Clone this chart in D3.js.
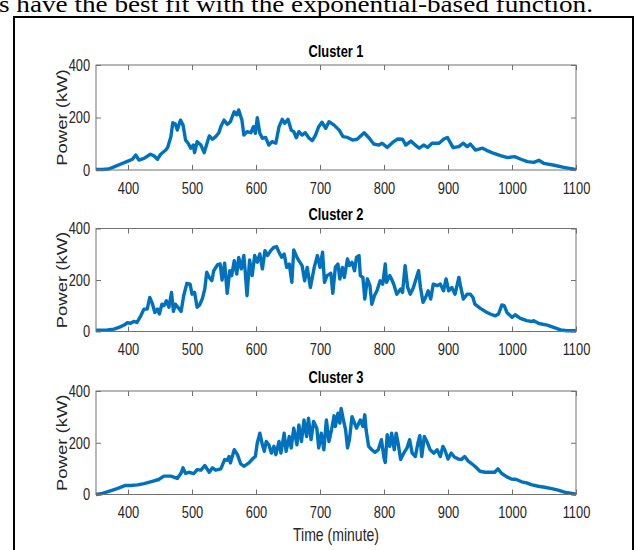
<!DOCTYPE html>
<html>
<head>
<meta charset="utf-8">
<script src="https://cdn.jsdelivr.net/npm/d3@7"></script>
<style>
body { margin: 0; background: #fff; }
</style>
</head>
<body>
<svg id="fig" width="637" height="550"></svg>
<script>
// [minute, power kW]
var cluster1 = [[350,2],[360,2],[370,4],[378,12],[388,22],[399,33],[407,41],[412,57],[417,38],[425,44],
    [435,60],[440,55],[446,41],[451,60],[459,76],[462,86],[467,127],[470,180],[474,175],[477,152],
    [482,190],[486,171],[490,114],[494,102],[498,83],[502,95],[504,66],[508,108],[514,95],[519,66],
    [527,130],[532,117],[537,127],[542,142],[545,165],[550,190],[555,174],[560,184],[566,222],[570,210],
    [573,229],[578,190],[581,133],[586,146],[592,142],[596,165],[599,140],[602,199],[606,140],[610,121],
    [615,124],[620,95],[625,108],[631,102],[636,165],[641,193],[645,178],[650,193],[655,152],[659,146],
    [663,123],[667,146],[672,133],[677,142],[683,121],[688,112],[693,133],[698,165],[703,182],[709,159],
    [714,184],[722,171],[730,152],[736,127],[743,124],[751,114],[758,117],[769,142],[777,121],[784,99],
    [792,95],[797,102],[805,86],[813,104],[821,118],[829,117],[834,95],[842,110],[849,95],[855,83],
    [862,95],[868,86],[875,102],[886,102],[894,119],[899,124],[908,85],[917,89],[924,102],[930,89],
    [935,99],[943,76],[954,83],[961,74],[972,63],[982,55],[993,47],[1004,51],[1014,41],[1024,32],
    [1034,29],[1042,37],[1050,25],[1066,18],[1081,10],[1097,3],[1100,2]];

var cluster2 = [[350,5],[360,5],[368,6],[378,9],[386,16],[394,25],[399,34],[404,32],[409,39],[414,35],
    [420,61],[425,87],[430,87],[434,132],[438,109],[442,74],[446,87],[449,68],[453,106],[456,100],
    [460,119],[464,94],[468,152],[471,78],[474,106],[478,94],[483,78],[487,139],[492,187],[497,184],
    [500,145],[504,152],[508,94],[512,104],[516,126],[520,165],[523,230],[527,210],[531,197],[534,236],
    [540,260],[544,262],[547,200],[551,265],[555,148],[559,236],[562,217],[566,275],[570,223],[573,288],
    [577,243],[581,295],[583,236],[586,139],[590,278],[594,217],[598,295],[602,269],[606,301],[610,243],
    [614,314],[618,295],[623,314],[628,327],[632,330],[636,308],[640,288],[644,301],[648,249],[652,262],
    [656,191],[659,317],[664,288],[667,275],[672,256],[676,197],[680,249],[685,171],[691,249],[696,295],
    [700,249],[704,308],[707,191],[711,217],[717,226],[720,148],[724,249],[728,262],[731,204],[735,249],
    [738,210],[743,282],[746,256],[750,269],[754,236],[757,288],[761,295],[763,217],[767,210],[770,126],
    [774,204],[778,178],[781,106],[785,139],[789,158],[794,197],[798,184],[802,262],[804,191],[809,217],
    [813,197],[816,178],[820,145],[826,165],[829,152],[833,256],[837,171],[841,145],[846,171],[850,204],
    [854,236],[857,171],[861,113],[865,132],[869,158],[873,126],[877,184],[883,178],[888,184],[893,158],
    [897,204],[901,158],[906,171],[911,145],[917,210],[920,171],[924,126],[930,145],[935,145],[939,132],
    [942,106],[950,91],[958,78],[966,68],[974,61],[979,68],[984,103],[988,100],[992,74],[1000,55],
    [1005,65],[1013,51],[1023,42],[1031,39],[1034,42],[1042,31],[1055,25],[1065,16],[1076,6],[1086,3],
    [1100,3]];

var cluster3 = [[350,0],[360,4],[370,12],[383,23],[396,35],[404,35],[415,37],[425,42],[438,51],[448,58],
    [456,71],[467,71],[477,62],[483,83],[486,103],[490,81],[495,86],[503,81],[508,96],[514,94],
    [520,112],[527,86],[532,103],[537,94],[545,99],[551,135],[555,132],[558,147],[560,122],[566,173],
    [571,154],[576,119],[581,109],[589,122],[596,141],[599,147],[602,199],[606,237],[610,192],[613,167],
    [616,205],[620,192],[624,160],[628,186],[631,154],[636,205],[639,160],[644,237],[647,167],[652,224],
    [655,180],[659,256],[664,192],[667,269],[671,205],[675,288],[679,224],[682,295],[686,212],[690,282],
    [695,256],[698,180],[702,237],[706,173],[710,288],[714,205],[718,250],[722,304],[724,263],[728,314],
    [731,276],[733,333],[736,295],[740,250],[743,180],[746,212],[750,301],[754,276],[757,256],[763,288],
    [767,263],[770,308],[772,250],[776,186],[781,173],[786,163],[791,173],[796,212],[800,141],[802,124],
    [805,231],[809,186],[812,237],[816,173],[819,237],[822,199],[826,135],[831,160],[836,180],[840,212],
    [844,160],[849,147],[853,199],[856,227],[859,147],[863,224],[867,205],[872,173],[878,160],[883,173],
    [888,147],[892,186],[895,173],[900,137],[905,160],[910,145],[916,137],[921,135],[926,147],[932,128],
    [937,119],[942,109],[950,90],[958,86],[965,86],[973,86],[978,99],[984,81],[992,68],[999,60],
    [1007,58],[1015,49],[1023,45],[1030,38],[1041,32],[1051,28],[1062,23],[1072,17],[1082,9],[1100,1]];

var series = [cluster1, cluster2, cluster3];
var titles = ["Cluster 1", "Cluster 2", "Cluster 3"];
var x_ticks = [400, 500, 600, 700, 800, 900, 1000, 1100];
var y_ticks = [0, 200, 400];
var x_domain = [350, 1100], y_domain = [0, 400];
var y_label = "Power (kW)", x_label = "Time (minute)";
var caption = "s have the best fit with the exponential-based function.";

var font = "'Liberation Sans', Arial, Helvetica, sans-serif",
    squeeze = 0.78,            // the figure is squashed horizontally
    axis_color = "#707070", text_color = "#262626", line_color = "#0072BD",
    plain = d3.format("d");

var svg = d3.select("#fig");

// running text above the figure, cut at the top
svg.append("text")
    .attr("x", -1).attr("y", 12)
    .attr("font-family", "'Liberation Serif', 'Times New Roman', serif")
    .attr("font-size", 23)
    .attr("textLength", 594).attr("lengthAdjust", "spacingAndGlyphs")
    .text(caption);

// frame round the figure
svg.append("rect")
    .attr("x", 14).attr("y", 17).attr("width", 619).attr("height", 560)
    .attr("fill", "none").attr("stroke", "#000").attr("stroke-width", 2);

var panels = [{ top: 65, bottom: 170 }, { top: 228.5, bottom: 331.5 }, { top: 391, bottom: 494.5 }];
var x = d3.scaleLinear().domain(x_domain).range([96, 576]);

function style_axis(g) {
    g.select(".domain").remove();
    g.selectAll("line").attr("stroke", axis_color);
    g.attr("font-family", font).attr("font-size", 16.5);
    g.selectAll("text").attr("fill", text_color)
        .attr("transform", "scale(" + squeeze + ",1)");
}

panels.forEach(function (p, i) {
    var y = d3.scaleLinear().domain(y_domain).range([p.bottom, p.top]);
    var g = svg.append("g").attr("class", "panel panel" + i);

    var line = d3.line()
        .x(function (d) { return x(d[0]); })
        .y(function (d) { return y(d[1]); });

    g.append("path")
        .datum(series[i])
        .attr("d", line)
        .attr("fill", "none")
        .attr("stroke", line_color)
        .attr("stroke-width", 3.4)
        .attr("stroke-linejoin", "round");

    // inward ticks on all four sides, labels only bottom / left
    g.append("g").attr("transform", "translate(0," + p.bottom + ")")
        .call(d3.axisBottom(x).tickValues(x_ticks).tickSize(-5).tickPadding(12).tickFormat(plain))
        .call(style_axis);
    g.append("g").attr("transform", "translate(0," + p.top + ")")
        .call(d3.axisTop(x).tickValues(x_ticks).tickSize(-5).tickFormat(""))
        .call(style_axis);
    g.append("g").attr("transform", "translate(" + x.range()[0] + ",0)")
        .call(d3.axisLeft(y).tickValues(y_ticks).tickSize(-5).tickPadding(7.5).tickFormat(plain))
        .call(style_axis);
    g.append("g").attr("transform", "translate(" + x.range()[1] + ",0)")
        .call(d3.axisRight(y).tickValues(y_ticks).tickSize(-5).tickFormat(""))
        .call(style_axis);

    g.append("rect")
        .attr("x", x.range()[0]).attr("y", p.top)
        .attr("width", x.range()[1] - x.range()[0]).attr("height", p.bottom - p.top)
        .attr("fill", "none").attr("stroke", axis_color).attr("stroke-width", 1);

    g.append("text")
        .attr("transform", "translate(336," + (p.top - 8.5) + ") scale(" + squeeze + ",1)")
        .attr("text-anchor", "middle")
        .attr("font-family", font).attr("font-size", 16.5).attr("font-weight", "bold")
        .attr("fill", "#000")
        .text(titles[i]);

    g.append("text")
        .attr("transform", "translate(66.5," + (p.top + p.bottom) / 2 + ") rotate(-90) scale(1," + squeeze + ")")
        .attr("text-anchor", "middle")
        .attr("font-family", font).attr("font-size", 18.5)
        .attr("fill", text_color)
        .text(y_label);
});

svg.append("text")
    .attr("transform", "translate(336,541) scale(" + squeeze + ",1)")
    .attr("text-anchor", "middle")
    .attr("font-family", font).attr("font-size", 18)
    .attr("fill", text_color)
    .text(x_label);
</script>
</body>
</html>
